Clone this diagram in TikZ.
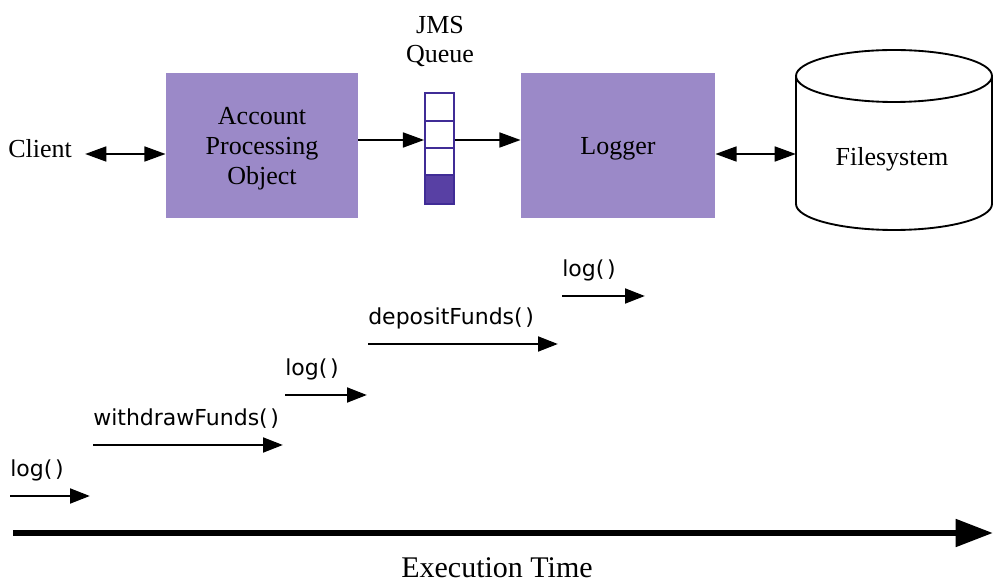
\documentclass[tikz,border=0pt]{standalone}
\usepackage{fontspec}
\setmainfont{Liberation Serif}
\newfontfamily\labfont{DejaVu Sans}
\usetikzlibrary{arrows.meta}
\definecolor{boxfill}{RGB}{155,137,200}
\definecolor{qfill}{RGB}{88,64,164}
\definecolor{qline}{RGB}{64,44,150}
\newcommand{\emptyparen}{(\hspace{0.12em})}
\begin{document}
\begin{tikzpicture}[x=0.75pt,y=-0.75pt,
  serif/.style={font=\fontsize{19.5pt}{22.5pt}\selectfont, inner sep=0pt},
  proc/.style={fill=boxfill, minimum height=108.75pt, inner sep=0pt, align=center, serif, text depth=0pt},
  lab/.style={font=\labfont\fontsize{16.5pt}{19pt}\selectfont, inner sep=0pt, anchor=base west},
  arr/.style={line width=2.1pt, -{Triangle[length=16pt,width=11pt]}},
  dbl/.style={line width=2.1pt, {Triangle[length=16pt,width=11pt]}-{Triangle[length=16pt,width=11pt]}},
  marr/.style={line width=2.2pt, -{Triangle[length=15pt,width=11pt]}}]
\useasboundingbox (0,0) rectangle (993,584);
\fill[white] (0,0) rectangle (993,584);

% boxes
\node[proc, minimum width=144pt] (acct) at (262,145.5) {Account\\Processing\\Object};
\node[proc, minimum width=145.5pt] (logger) at (618,145.5) {Logger};

% queue
\fill[qfill] (425,175) rectangle (454,204);
\node[draw=qline, line width=1.1pt, minimum width=21.75pt, minimum height=83.25pt, inner sep=0pt] (queue) at (439.5,148.5) {};
\draw[qline, line width=1.1pt] (425,121) -- (454,121) (425,148) -- (454,148) (425,175) -- (454,175);
\node[serif, anchor=base] (jms) at (440,34) {JMS};
\node[serif, anchor=base] (qlabel) at (440,63) {Queue};

% client
\node[serif, anchor=base west] (client) at (8,158) {Client};
\coordinate (cA) at (85,154);
\draw[dbl] (cA) -- (cA -| acct.west);

% acct -> queue -> logger
\coordinate (qy) at (0,140);
\draw[arr] (acct.east |- qy) -- (queue.west |- qy);
\draw[arr] (queue.east |- qy) -- (logger.west |- qy);

% cylinder
\draw[line width=1.4pt, fill=white] (796,76) -- (796,204)
  arc[start angle=180, end angle=360, x radius=73.5pt, y radius=19.5pt] -- (992,76);
\draw[line width=1.4pt, fill=white] (894,76) ellipse[x radius=73.5pt, y radius=19.5pt];
\node[serif, anchor=base] (fs) at (892,166) {Filesystem};
\coordinate (cyl) at (796,154);
\draw[dbl] (logger.east |- cyl) -- (cyl);

% method calls
\node[lab] (m1) at (10,477) {log\emptyparen};
\coordinate (m1a) at (10,496); \coordinate (m1b) at (90,496);
\draw[marr] (m1a) -- (m1b);
\node[lab] (m2) at (93,426) {withdrawFunds\emptyparen};
\coordinate (m2a) at (93,445); \coordinate (m2b) at (283,445);
\draw[marr] (m2a) -- (m2b);
\node[lab] (m3) at (285,376) {log\emptyparen};
\coordinate (m3a) at (285,395); \coordinate (m3b) at (367,395);
\draw[marr] (m3a) -- (m3b);
\node[lab] (m4) at (368,325) {depositFunds\emptyparen};
\coordinate (m4a) at (368,344); \coordinate (m4b) at (558,344);
\draw[marr] (m4a) -- (m4b);
\node[lab] (m5) at (562,277) {log\emptyparen};
\coordinate (m5a) at (562,296); \coordinate (m5b) at (645,296);
\draw[marr] (m5a) -- (m5b);

% timeline
\coordinate (t0) at (13,533); \coordinate (t1) at (993,533);
\draw[line width=4.5pt, -{Triangle[length=28pt,width=20pt]}] (t0) -- (t1);
\node[font=\fontsize{22.5pt}{26pt}\selectfont, inner sep=0pt, anchor=base] (exec) at (497,577) {Execution Time};
\end{tikzpicture}
\end{document}
